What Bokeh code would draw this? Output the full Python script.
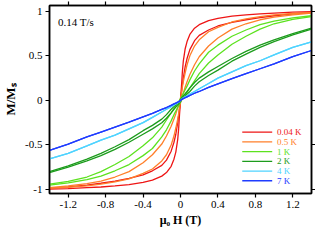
from bokeh.plotting import figure
from bokeh.models import LinearAxis, FixedTicker, CustomJSTickFormatter
from bokeh.core.properties import value
from bokeh.embed import file_html
from bokeh.resources import INLINE

# ---- data ----
temps = ["0.04 K", "0.5 K", "1 K", "2 K", "4 K", "7 K"]
colors = ["#ee1515", "#ff7f2a", "#5ce21f", "#1c9c1c", "#4fd3ff", "#1f3cff"]
rate_label = "0.14 T/s"

# positive-field grid (T)
H_grid = [0, 0.01, 0.02, 0.03, 0.05, 0.07, 0.1, 0.15, 0.2, 0.3, 0.4, 0.55, 0.7, 0.85, 1.0, 1.2, 1.4]

# M/Ms on the outer (A) and inner (B) branch for H >= 0
red_A = [0.02, 0.15, 0.32, 0.44, 0.58, 0.66, 0.74, 0.81, 0.85, 0.895, 0.92, 0.945, 0.96, 0.972, 0.98, 0.99, 0.995]
red_B = [-0.02, 0.08, 0.17, 0.25, 0.38, 0.47, 0.57, 0.67, 0.73, 0.79, 0.835, 0.875, 0.905, 0.93, 0.95, 0.97, 0.985]
org_A = [0.02, 0.08, 0.15, 0.21, 0.31, 0.40, 0.50, 0.61, 0.68, 0.77, 0.82, 0.88, 0.915, 0.94, 0.96, 0.975, 0.985]
org_B = [-0.02, 0.015, 0.05, 0.08, 0.15, 0.21, 0.29, 0.40, 0.49, 0.61, 0.70, 0.80, 0.86, 0.905, 0.935, 0.96, 0.98]
lgr_A = [0.02, 0.04, 0.06, 0.08, 0.12, 0.16, 0.23, 0.33, 0.41, 0.54, 0.62, 0.72, 0.79, 0.85, 0.89, 0.925, 0.95]
lgr_B = [-0.02, 0.0, 0.015, 0.03, 0.06, 0.09, 0.14, 0.22, 0.30, 0.42, 0.51, 0.63, 0.72, 0.80, 0.86, 0.91, 0.94]
dgr_A = [0.01, 0.025, 0.04, 0.05, 0.075, 0.10, 0.14, 0.20, 0.25, 0.32, 0.38, 0.47, 0.55, 0.62, 0.68, 0.75, 0.81]
dgr_B = [-0.01, 0.005, 0.02, 0.03, 0.05, 0.07, 0.10, 0.16, 0.21, 0.28, 0.34, 0.44, 0.52, 0.595, 0.66, 0.735, 0.80]
cyn_A = [0.0, 0.01, 0.02, 0.025, 0.04, 0.05, 0.07, 0.10, 0.13, 0.19, 0.25, 0.32, 0.39, 0.445, 0.51, 0.595, 0.656]
cyn_B = cyn_A
blu_A = [0.0, 0.008, 0.015, 0.02, 0.03, 0.04, 0.055, 0.08, 0.10, 0.145, 0.185, 0.245, 0.30, 0.355, 0.41, 0.49, 0.56]
blu_B = blu_A

branches = [(red_A, red_B), (org_A, org_B), (lgr_A, lgr_B),
            (dgr_A, dgr_B), (cyn_A, cyn_B), (blu_A, blu_B)]

x_ticks = [-1.2, -0.8, -0.4, 0, 0.4, 0.8, 1.2]
y_ticks = [-1, -0.5, 0, 0.5, 1]

SERIF = "Liberation Serif"

p = figure(width=315, height=229, x_range=(-1.4, 1.4), y_range=(-1.045, 1.065),
           output_backend="svg", toolbar_location=None,
           min_border_left=38, min_border_right=4, min_border_top=5, min_border_bottom=30)
p.grid.visible = False
p.outline_line_color = "black"
p.outline_line_width = 1.5
p.background_fill_color = "white"
p.border_fill_color = "white"

fmt = CustomJSTickFormatter(code="return String(Math.round(tick*10)/10);")
blank = CustomJSTickFormatter(code="return '';")

def style(ax, labels=True):
    ax.major_tick_out = 4
    ax.major_tick_in = 0
    ax.minor_tick_out = 0
    ax.minor_tick_in = 0
    ax.axis_line_width = 1.5
    ax.major_tick_line_width = 1.2
    ax.axis_line_color = "black"
    ax.major_label_text_font = SERIF
    ax.major_label_text_font_size = "11px"
    ax.major_label_text_color = "black"
    ax.major_label_standoff = 3 if labels else 0
    ax.axis_label_text_font = SERIF
    ax.axis_label_text_font_style = "bold"
    ax.axis_label_text_font_size = "12px"
    ax.axis_label_text_color = "black"

xa = p.xaxis[0]
xa.ticker = FixedTicker(ticks=x_ticks)
xa.formatter = fmt
xa.axis_label = "\u03bc\u2080 H (T)"
xa.axis_label_standoff = 2
style(xa)

ya = p.yaxis[0]
ya.ticker = FixedTicker(ticks=y_ticks)
ya.formatter = fmt
ya.axis_label = "M/M\u209b"
ya.axis_label_text_font_size = "13px"
ya.axis_label_standoff = 4
style(ya)
ya.axis_label_text_font_size = "13px"

top = LinearAxis(ticker=FixedTicker(ticks=x_ticks), formatter=blank)
style(top, labels=False)
p.add_layout(top, "above")
right = LinearAxis(ticker=FixedTicker(ticks=y_ticks), formatter=blank)
style(right, labels=False)
p.add_layout(right, "right")

# ---- loops ----
for (A, B), c in zip(branches, colors):
    # field sweeping down: outer branch on H>0, inner (mirrored) on H<0
    hd = list(reversed(H_grid)) + [-h for h in H_grid[1:]]
    md = list(reversed(A)) + [-m for m in B[1:]]
    # field sweeping up
    hu = [-h for h in reversed(H_grid)] + H_grid[1:]
    mu = [-m for m in reversed(A)] + B[1:]
    p.line(hd, md, line_color=c, line_width=1.3)
    p.line(hu, mu, line_color=c, line_width=1.3)

# ---- legend (manual, coloured text) ----
lx0, lx1, ltx = 0.66, 0.98, 1.03
ly0, ldy = -0.357, -0.109
ys = [ly0 + i * ldy for i in range(len(temps))]
p.segment(x0=[lx0] * len(temps), y0=ys, x1=[lx1] * len(temps), y1=ys,
          line_color=colors, line_width=1.3)
p.text(x=[ltx] * len(temps), y=ys, text=temps, text_color=colors,
       text_font=value(SERIF), text_font_size="9px", text_baseline="middle")

p.text(x=[-1.31], y=[0.875], text=[rate_label], text_color="black",
       text_font=value(SERIF), text_font_size="11px", text_baseline="middle")

open("out.html", "w").write(file_html(p, INLINE))
